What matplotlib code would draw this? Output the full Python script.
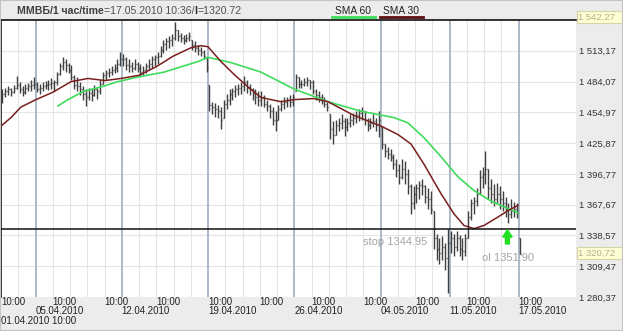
import matplotlib
matplotlib.use('Agg')
import matplotlib.pyplot as plt
import numpy as np
from matplotlib.patches import FancyArrow, Rectangle
from matplotlib.lines import Line2D

plt.rcParams['font.family'] = ['Liberation Sans', 'DejaVu Sans']

# ---------------- data (hourly bars, 6 per trading day) ----------------
bars_per_day = 6
high = [
    1477, 1478, 1480, 1478, 1481, 1489,
    1484, 1480, 1482, 1483, 1486, 1488,
    1484, 1482, 1484, 1485, 1486, 1487,
    1486, 1493, 1502, 1507, 1505, 1502,
    1500, 1490, 1488, 1484, 1480, 1477,
    1478, 1477, 1481, 1478, 1486, 1493,
    1495, 1497, 1499, 1501, 1505, 1512,
    1510, 1507, 1505, 1503, 1505, 1503,
    1501, 1499, 1502, 1505, 1508, 1509,
    1512, 1518, 1523, 1525, 1527, 1529,
    1540, 1533, 1530, 1528, 1529, 1531,
    1523, 1522, 1519, 1517, 1514, 1507,
    1481, 1465, 1464, 1462, 1460, 1467,
    1472, 1477, 1478, 1481, 1482, 1484,
    1489, 1486, 1482, 1478, 1477, 1475,
    1475, 1471, 1467, 1463, 1460, 1456,
    1462, 1467, 1469, 1469, 1471, 1472,
    1491, 1488, 1486, 1487, 1488, 1486,
    1486, 1477, 1475, 1472, 1469, 1465,
    1453, 1447, 1448, 1450, 1453, 1450,
    1450, 1453, 1454, 1456, 1458, 1460,
    1456, 1450, 1450, 1453, 1450, 1456,
    1441, 1425, 1422, 1420, 1416, 1411,
    1406, 1411, 1409, 1401, 1387, 1385,
    1387, 1390, 1392, 1386, 1383, 1381,
    1362, 1340, 1336, 1338, 1331, 1345,
    1343, 1340, 1343, 1339, 1336, 1340,
    1362, 1373, 1375, 1383, 1400, 1403,
    1418, 1401, 1392, 1387, 1388, 1385,
    1381, 1375, 1369, 1373, 1370, 1369,
    1336]
low = [
    1464, 1469, 1471, 1470, 1473, 1477,
    1473, 1470, 1472, 1475, 1475, 1477,
    1474, 1472, 1475, 1477, 1476, 1477,
    1475, 1481, 1490, 1495, 1493, 1492,
    1486, 1477, 1475, 1471, 1467, 1461,
    1467, 1466, 1470, 1468, 1472, 1482,
    1486, 1488, 1490, 1492, 1493, 1499,
    1499, 1495, 1493, 1493, 1495, 1493,
    1489, 1490, 1492, 1495, 1497, 1499,
    1501, 1507, 1511, 1514, 1516, 1518,
    1523, 1522, 1521, 1520, 1521, 1522,
    1514, 1512, 1509, 1508, 1505, 1493,
    1456, 1453, 1451, 1450, 1439, 1450,
    1458, 1462, 1467, 1469, 1471, 1472,
    1475, 1473, 1471, 1467, 1463, 1461,
    1461, 1460, 1456, 1450, 1443, 1437,
    1448, 1456, 1458, 1460, 1460, 1461,
    1475, 1478, 1478, 1480, 1480, 1477,
    1472, 1467, 1465, 1463, 1460, 1456,
    1430, 1425, 1434, 1437, 1439, 1433,
    1437, 1441, 1443, 1445, 1447, 1448,
    1443, 1437, 1439, 1441, 1437, 1432,
    1420, 1413, 1411, 1409, 1401, 1394,
    1387, 1392, 1387, 1378, 1359, 1364,
    1369, 1373, 1377, 1369, 1364, 1359,
    1326, 1315, 1312, 1315, 1306, 1284,
    1322, 1319, 1324, 1319, 1315, 1319,
    1336, 1353, 1359, 1366, 1378, 1383,
    1387, 1373, 1369, 1366, 1369, 1364,
    1362, 1356, 1350, 1355, 1356, 1355,
    1321]
close = [
    1472, 1475, 1477, 1474, 1478, 1481,
    1477, 1474, 1478, 1480, 1481, 1482,
    1477, 1478, 1480, 1481, 1482, 1483,
    1484, 1491, 1499, 1503, 1500, 1495,
    1488, 1481, 1480, 1477, 1472, 1469,
    1473, 1471, 1477, 1475, 1482, 1490,
    1492, 1493, 1495, 1497, 1501, 1505,
    1505, 1500, 1499, 1497, 1501, 1497,
    1493, 1495, 1499, 1501, 1505, 1507,
    1508, 1514, 1520, 1522, 1523, 1525,
    1533, 1527, 1525, 1523, 1525, 1527,
    1519, 1516, 1514, 1512, 1508, 1497,
    1462, 1460, 1458, 1456, 1448, 1463,
    1467, 1472, 1475, 1477, 1478, 1480,
    1484, 1478, 1477, 1473, 1469, 1467,
    1469, 1463, 1461, 1456, 1448, 1447,
    1458, 1463, 1465, 1467, 1465, 1469,
    1488, 1482, 1482, 1484, 1486, 1484,
    1475, 1471, 1469, 1467, 1463, 1460,
    1439, 1434, 1443, 1445, 1447, 1441,
    1445, 1448, 1450, 1452, 1454, 1456,
    1448, 1443, 1445, 1447, 1443, 1448,
    1425, 1418, 1416, 1413, 1406, 1400,
    1394, 1401, 1397, 1385, 1369, 1378,
    1383, 1386, 1385, 1375, 1373, 1364,
    1336, 1326, 1322, 1328, 1317, 1331,
    1336, 1328, 1336, 1326, 1324, 1336,
    1356, 1369, 1371, 1378, 1394, 1397,
    1401, 1383, 1378, 1373, 1378, 1373,
    1369, 1364, 1359, 1362, 1364, 1362,
    1320.72]
first_open = 1470

# moving averages (x in trading days from 01.04.2010 10:00)
sma30_day = [0.0, 0.58, 1.16, 2.03, 3.01, 4.06, 5.04, 6.03, 6.96, 8.0, 8.99, 9.97,
             11.01, 11.59, 12.0, 12.75, 13.5, 14.32, 15.07, 16.23, 16.99, 18.14,
             18.96, 20.46, 22.03, 23.01, 23.77, 24.52, 25.51, 26.26, 26.84, 27.42,
             28.0, 28.81, 29.39, 29.97]
sma30 = [1442, 1450, 1460, 1467, 1474, 1484, 1487, 1485, 1487, 1490, 1498, 1508,
         1516, 1518, 1517, 1503, 1491, 1479, 1469, 1465, 1467, 1468,
         1465, 1452, 1442, 1434, 1425, 1406, 1378, 1359, 1348, 1345,
         1348, 1356, 1362, 1367]
sma60_day = [3.30, 3.88, 4.81, 5.80, 6.78, 7.83, 9.45, 11.42, 12.0, 13.33, 15.07,
             16.99, 18.96, 20.87, 22.78, 23.59, 24.52, 25.51, 26.49, 27.42, 28.41,
             29.39, 29.97]
sma60 = [1461, 1467, 1475, 1479, 1484, 1488, 1493, 1503, 1507, 1502, 1493,
         1477, 1465, 1456, 1450, 1445, 1431, 1413, 1394, 1381, 1371,
         1364, 1360]

# axis labelling
y_ticks = [1280.37, 1309.47, 1338.57, 1367.67, 1396.77, 1425.87, 1454.97, 1484.07, 1513.17]
y_top = 1542.27
last_price = 1320.72
stop_level = 1344.95
ol_level = 1351.90
time_tick_days = [0, 3, 6, 9, 12, 15, 18, 21, 24, 27, 30]
week_days = [2, 7, 12, 17, 22, 26, 30]
week_labels = ['05.04.2010', '12.04.2010', '19.04.2010', '26.04.2010',
               '04.05.2010', '11.05.2010', '17.05.2010']
n_days = 31
arrow_day, arrow_price = 29.36, 1344

# ---------------- figure ----------------
W, H = 623, 331
def fx(px): return px / W
def fy(py): return 1 - py / H

fig = plt.figure(figsize=(W / 100, H / 100), dpi=100, facecolor='#ececec')
ax = fig.add_axes([fx(1), fy(297), 575 / W, 277 / H])
ax.set_facecolor('white')
px_per_day = 17.25
ax.set_xlim(0, 575 / px_per_day)
ax.set_ylim(1281.3, y_top)

# grid
for v in y_ticks:
    ax.axhline(v, color='#e4e4e4', lw=0.8, zorder=0)
for d in range(1, n_days):
    if d not in week_days:
        ax.axvline(d, color='#e4e4e4', lw=0.8, zorder=0)
for d in week_days:
    ax.axvline(d, color='#a7b3c4', lw=1.3, zorder=1)

# OHLC bars
n = len(high)
idx = np.arange(n)
xpos = idx // bars_per_day + ((idx % bars_per_day) + 0.5) / bars_per_day
high_a = np.array(high, float)
low_a = np.array(low, float)
close_a = np.array(close, float)
open_a = np.concatenate([[first_open], close_a[:-1]])
open_a = np.clip(open_a, low_a, high_a)
w = 0.06
bar_col = '#404040'
ax.vlines(xpos, low_a, high_a, color=bar_col, lw=1.0, zorder=3)
ax.hlines(open_a, xpos - w, xpos, color=bar_col, lw=1.0, zorder=3)
ax.hlines(close_a, xpos, xpos + w, color=bar_col, lw=1.0, zorder=3)

# moving averages
ax.plot(sma60_day, sma60, color='#3fdc5c', lw=1.2, zorder=4)
ax.plot(sma30_day, sma30, color='#7a1e1e', lw=1.1, zorder=5)

# stop line
ax.axhline(stop_level, color='#111111', lw=1.1, zorder=6)

# annotations
ax.text(21.0, 1332, 'stop 1344.95', color='#a6a6a6', fontsize=8, va='center', ha='left', zorder=7)
ax.text(27.88, 1317, 'ol 1351.90', color='#a6a6a6', fontsize=8, va='center', ha='left', zorder=7)
ax.add_patch(FancyArrow(arrow_day, arrow_price - 13.5, 0, 13.5, width=0.23, head_width=0.55,
                        head_length=7, length_includes_head=True, color='#22e022', zorder=8))

# spines
for s in ['right', 'bottom']:
    ax.spines[s].set_visible(False)
ax.spines['top'].set_color('#111111')
ax.spines['top'].set_linewidth(1.2)
ax.spines['left'].set_color('#111111')
ax.spines['left'].set_linewidth(1.2)

# y tick labels on the right
def fmt(v):
    s = f"{v:,.2f}"
    return s.replace(',', ' ').replace('.', ',')
ax.set_xticks([])
ax.yaxis.tick_right()
ax.set_yticks(y_ticks)
ax.set_yticklabels([fmt(v) for v in y_ticks])
ax.tick_params(axis='y', length=0, pad=2, labelsize=6.8, labelcolor='#333333')

# highlighted value boxes
def hl_box(price_text, py):
    fig.add_artist(Rectangle((fx(576.5), fy(py + 6)), fx(45), 12 / H, transform=fig.transFigure,
                             facecolor='#ffffd6', edgecolor='#d4d4a4', lw=0.8))
    fig.text(fx(578.5), fy(py), price_text, fontsize=6.8, color='#b0ae88', va='center', ha='left')
hl_box(fmt(y_top), 17)
hl_box(fmt(last_price), 253)

# x labels
xt = ax.get_xaxis_transform()
def ay(py): return (297 - py) / 277
for d in time_tick_days:
    ax.text(d, ay(305), '10:00', transform=xt, fontsize=7, color='#222222', ha='left', va='baseline')
for d, lab in zip(week_days, week_labels):
    ax.text(d, ay(314.5), lab, transform=xt, fontsize=7, color='#222222', ha='left', va='baseline')
ax.text(0, ay(323.5), '01.04.2010 10:00', transform=xt, fontsize=7, color='#222222',
        ha='left', va='baseline')

# title pieces
t1 = fig.text(fx(17), fy(14), 'ММВБ/1 час/time', fontsize=7.6, fontweight='bold',
              color='#404040', va='baseline', ha='left')
t2 = ax.annotate('=17.05.2010 10:36/', xy=(1, 0), xycoords=t1, fontsize=7.6, color='#505050',
                 va='bottom', ha='left', annotation_clip=False)
t3 = ax.annotate('l', xy=(1, 0), xycoords=t2, fontsize=7.6, fontweight='bold', color='#303030',
                 va='bottom', ha='left', annotation_clip=False)
t4 = ax.annotate('=1320.72', xy=(1, 0), xycoords=t3, fontsize=7.6, color='#505050',
                 va='bottom', ha='left', annotation_clip=False)

# legend
fig.text(fx(335), fy(13.5), 'SMA 60', fontsize=7.4, color='#222222', va='baseline', ha='left')
fig.add_artist(Line2D([fx(332), fx(375)], [fy(16.5), fy(16.5)], transform=fig.transFigure,
                      color='#3fdc5c', lw=2))
fig.text(fx(383), fy(13.5), 'SMA 30', fontsize=7.4, color='#222222', va='baseline', ha='left')
fig.add_artist(Line2D([fx(380), fx(423)], [fy(16.5), fy(16.5)], transform=fig.transFigure,
                      color='#5c1010', lw=2))

# outer frame
fig.add_artist(Rectangle((0, 0), 1, 1, transform=fig.transFigure, fill=False,
                         edgecolor='#c4c4c4', lw=1.5))

fig.savefig('out.png', dpi=100, facecolor=fig.get_facecolor())
